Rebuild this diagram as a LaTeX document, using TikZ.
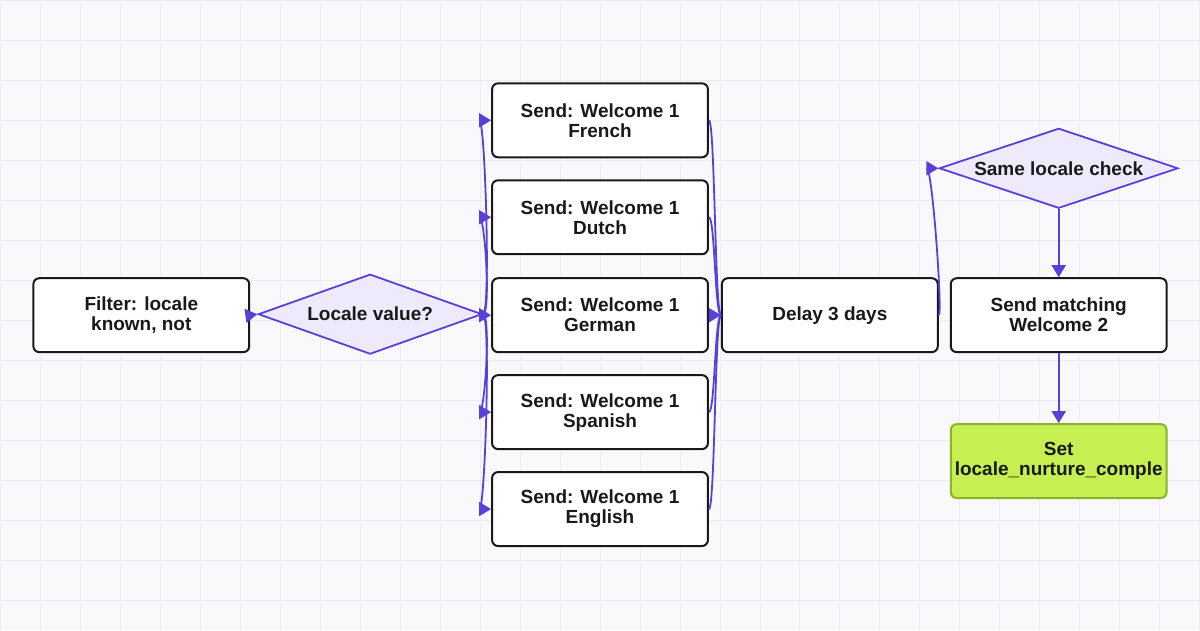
\documentclass[tikz,border=0pt]{standalone}
\usepackage{fontspec}
\setmainfont{Liberation Sans}
\usetikzlibrary{shapes.geometric,arrows.meta}
\definecolor{edge}{HTML}{5B3FD9}
\definecolor{dfill}{HTML}{EEEAFB}
\definecolor{gfill}{HTML}{C6F052}
\definecolor{gdraw}{HTML}{8AB32A}
\definecolor{bg}{HTML}{F9F9FC}
\definecolor{gridc}{HTML}{ECEBF7}
\begin{document}
\begin{tikzpicture}[x=1pt,y=-1pt,
  box/.style={draw=black!90,line width=2pt,rounded corners=6pt,fill=white,minimum width=216pt,minimum height=74pt,align=center,font=\bfseries\fontsize{19}{20}\selectfont,text=black!90},
  dia/.style={diamond,draw=edge,line width=1.8pt,fill=dfill,aspect=2.8,inner sep=0pt,align=center,font=\bfseries\fontsize{19}{20}\selectfont,text=black!90},
  arr/.style={draw=edge,line width=1.8pt,-{Triangle[length=12pt,width=14pt]}}]
\fill[bg] (0,0) rectangle (1200,630);
\foreach \x in {0,40,...,1200} \draw[gridc,line width=0.8pt] (\x,0)--(\x,630);
\foreach \y in {0,40,...,630} \draw[gridc,line width=0.8pt] (0,\y)--(1200,\y);
\useasboundingbox (0,0) rectangle (1200,630);
\node[box] (f) at (141,315) {Filter: locale\\known, not};
\node[dia,minimum width=224pt,minimum height=80pt] (l) at (370,314) {Locale value?};
\node[box] (s1) at (600,120) {Send: Welcome 1\\French};
\node[box] (s2) at (600,217) {Send: Welcome 1\\Dutch};
\node[box] (s3) at (600,315) {Send: Welcome 1\\German};
\node[box] (s4) at (600,412) {Send: Welcome 1\\Spanish};
\node[box] (s5) at (600,509) {Send: Welcome 1\\English};
\node[box] (d) at (830,315) {Delay 3 days};
\node[dia,minimum width=239pt,minimum height=80pt] (c) at (1059,168) {Same locale check};
\node[box] (m) at (1059,315) {Send matching\\Welcome 2};
\node[box,draw=gdraw,fill=gfill] (e) at (1059,461) {Set\\locale\_nurture\_comple};
\draw[arr] (f.east) -- (l.west);
\foreach \s in {s1,s2,s3,s4,s5}
  \draw[arr] (l.east) .. controls ++(8,0) and ([xshift=-6pt]\s.west) .. (\s.west);
\foreach \s in {s1,s2,s4,s5}
  \draw[draw=edge,line width=1.8pt] (\s.east) .. controls ++(6,0) and ([xshift=-6pt]d.west) .. (d.west);
\draw[arr] (s3.east) -- (d.west);
\draw[arr] (d.east) .. controls ++(4,0) and ([xshift=-6pt]c.west) .. (c.west);
\draw[arr] (c.south) -- (m.north);
\draw[arr] (m.south) -- (e.north);
\end{tikzpicture}
\end{document}
